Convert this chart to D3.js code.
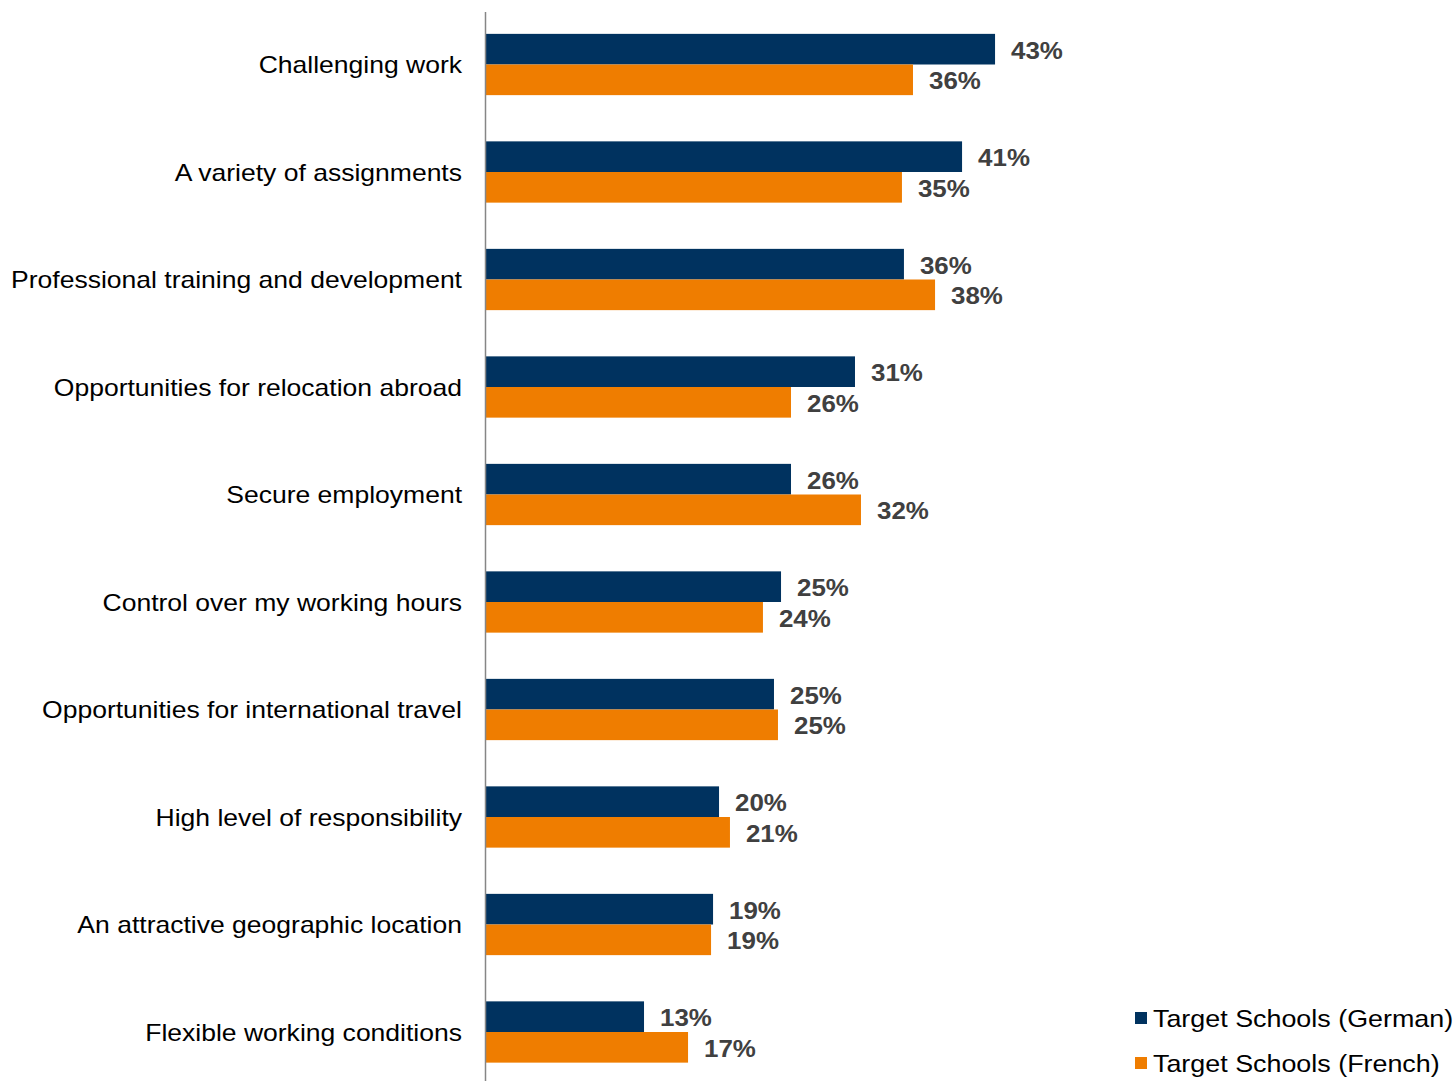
<!DOCTYPE html>
<html><head><meta charset="utf-8">
<script src="https://cdn.jsdelivr.net/npm/d3@7"></script>
<style>body{margin:0;background:#fff}svg{display:block}</style>
</head><body><svg id="c" width="1456" height="1081"></svg>
<script>
const categories = ["Challenging work","A variety of assignments","Professional training and development","Opportunities for relocation abroad","Secure employment","Control over my working hours","Opportunities for international travel","High level of responsibility","An attractive geographic location","Flexible working conditions"];
const germanValues = [43.36, 40.55, 35.60, 31.43, 25.98, 25.13, 24.53, 19.85, 19.34, 13.46];
const frenchValues = [36.37, 35.43, 38.25, 25.98, 31.94, 23.59, 24.87, 20.78, 19.17, 17.21];
const seriesNames = ["Target Schools (German)", "Target Schools (French)"];
const seriesColors = ["#00325f", "#ef7d00"];

const svg = d3.select("#c");
const font = "'Liberation Sans', Arial, sans-serif";
const x0 = 486;
const x = d3.scaleLinear().domain([0, 50]).range([x0, x0 + 50 * 11.74]);
const y = d3.scaleBand().domain(categories).range([10.75, 1085.75]).paddingInner(0.43).paddingOuter(0.215);
const sub = d3.scaleBand().domain([0, 1]).range([0, y.bandwidth()]);

const series = [germanValues, frenchValues];
series.forEach((vals, si) => {
  const g = svg.append("g");
  g.selectAll("rect").data(vals).join("rect")
    .attr("x", x(0))
    .attr("y", (d, i) => y(categories[i]) + sub(si))
    .attr("width", d => x(d) - x(0))
    .attr("height", sub.bandwidth())
    .attr("fill", seriesColors[si]);
  g.selectAll("text").data(vals).join("text")
    .attr("transform", (d, i) => `translate(${x(d) + 16},${y(categories[i]) + sub(si) + sub.bandwidth() / 2 + 1}) scale(1.08,1)`)
    .attr("dy", "0.36em")
    .attr("font-family", font).attr("font-weight", "bold").attr("font-size", 24)
    .attr("fill", "#404040")
    .text(d => Math.round(d) + "%");
});

// category labels
svg.append("g").selectAll("text").data(categories).join("text")
  .attr("transform", d => `translate(462,${y(d) + y.bandwidth() / 2}) scale(1.105,1)`)
  .attr("dy", "0.36em")
  .attr("text-anchor", "end")
  .attr("font-family", font).attr("font-size", 24).attr("fill", "#000")
  .text(d => d);

// axis line
svg.append("line").attr("x1", 485.5).attr("x2", 485.5).attr("y1", 12).attr("y2", 1081)
  .attr("stroke", "#868686").attr("stroke-width", 1.5);

// legend
const lg = svg.append("g");
seriesNames.forEach((n, i) => {
  const cy = 1018 + i * 45;
  lg.append("rect").attr("x", 1135).attr("y", cy - 6).attr("width", 12).attr("height", 12).attr("fill", seriesColors[i]);
  lg.append("text").attr("transform", `translate(1153,${cy}) scale(1.12,1)`).attr("dy", "0.36em")
    .attr("font-family", font).attr("font-size", 24).attr("fill", "#000").text(n);
});
</script></body></html>
